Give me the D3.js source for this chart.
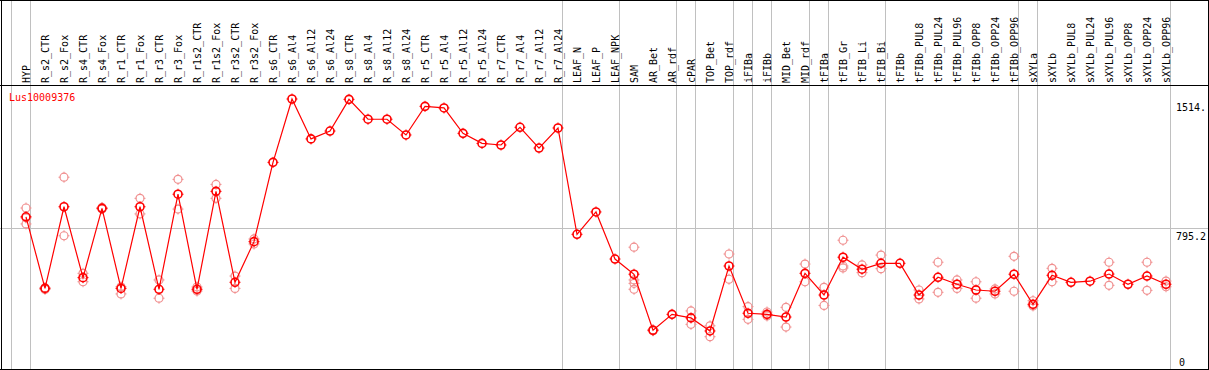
<!DOCTYPE html>
<html><head><meta charset="utf-8">
<script src="https://cdn.jsdelivr.net/npm/d3@7"></script>
<style>body{margin:0;background:#fff;}svg{display:block;}</style>
</head><body>
<svg id="c" width="1209" height="370"></svg>
<script>
const geneName = "Lus10009376";
const categories = ["HYP","R_s2_CTR","R_s2_Fox","R_s4_CTR","R_s4_Fox","R_r1_CTR","R_r1_Fox","R_r3_CTR","R_r3_Fox","R_r1s2_CTR","R_r1s2_Fox","R_r3s2_CTR","R_r3s2_Fox","R_s6_CTR","R_s6_Al4","R_s6_Al12","R_s6_Al24","R_s8_CTR","R_s8_Al4","R_s8_Al12","R_s8_Al24","R_r5_CTR","R_r5_Al4","R_r5_Al12","R_r5_Al24","R_r7_CTR","R_r7_Al4","R_r7_Al12","R_r7_Al24","LEAF_N","LEAF_P","LEAF_NPK","SAM","AR_Bet","AR_rdf","cPAR","TOP_Bet","TOP_rdf","iFIBa","iFIBb","MID_Bet","MID_rdf","tFIBa","tFIB_Gr","tFIB_Li","tFIB_Bi","tFIBb","tFIBb_PUL8","tFIBb_PUL24","tFIBb_PUL96","tFIBb_OPP8","tFIBb_OPP24","tFIBb_OPP96","sXYLa","sXYLb","sXYLb_PUL8","sXYLb_PUL24","sXYLb_PUL96","sXYLb_OPP8","sXYLb_OPP24","sXYLb_OPP96"];
const meanValues = [856,456,912,516,903,456,912,451,982,451,998,490,717,1160,1514,1291,1335,1512,1401,1401,1313,1473,1464,1322,1266,1257,1356,1240,1352,758,883,620,535,222,311,291,218,581,317,311,296,540,419,630,563,596,596,419,518,479,447,440,535,367,529,490,496,536,479,525,479];
const replicateValues = [[905,816,850],[460,450],[1077,750],[540,493],[908,900],[425,465],[959,872],[503,401],[1065,899],[464,441],[1037,959],[525,456],[732,704],[],[],[],[],[],[],[],[],[],[],[],[],[],[],[],[],[],[],[],[686,503,484,451],[225,219],[],[330,255],[247,186],[648,507],[354,283],[324,302],[350,240],[592,493],[462,361],[725,581,570],[587,544],[642,566],[],[447,397],[602,434],[503,456],[493,401],[453,425],[635,440],[387,358],[568,493],[],[],[602,473],[],[602,445],[497,465]];
const groupStarts = ["HYP","R_s2_CTR","LEAF_N","SAM","cPAR","TOP_Bet","iFIBa","iFIBb","MID_Bet","tFIBa","tFIB_Gr","tFIBb","sXYLa","sXYLb"];
const yTickLabels = ["1514.","795.2","0"];
const yTickValues = [1514,795.2,0];

const W = 1209, H = 370;
const svg = d3.select("#c");
const x = d3.scalePoint().domain(categories).range([26, 1166]);
const y = d3.scaleLinear().domain([0, 1514]).range([370, 99]);
const font = "'DejaVu Sans Mono', monospace";

// grid
const grid = svg.append("g").attr("stroke", "#c0c0c0").attr("stroke-width", 1);
const bounds = groupStarts.map(c => x(c) - 15).concat([x(categories[categories.length-1]) + 4]);
bounds.forEach(b => grid.append("line").attr("x1", Math.round(b)+0.5).attr("x2", Math.round(b)+0.5).attr("y1", 0).attr("y2", H));
grid.append("line").attr("x1", 0).attr("x2", W).attr("y1", Math.round(y(795.2))+0.5).attr("y2", Math.round(y(795.2))+0.5);

// frame
const fr = svg.append("g").attr("stroke", "#000").attr("stroke-width", 1);
fr.append("line").attr("x1",0).attr("x2",W).attr("y1",0.5).attr("y2",0.5);
fr.append("line").attr("x1",0).attr("x2",W).attr("y1",85.5).attr("y2",85.5);
fr.append("line").attr("x1",0).attr("x2",W).attr("y1",369.5).attr("y2",369.5);
fr.append("line").attr("x1",1.5).attr("x2",1.5).attr("y1",0).attr("y2",H);
fr.append("line").attr("x1",1208.5).attr("x2",1208.5).attr("y1",0).attr("y2",H);

// category labels
svg.append("g").selectAll("text").data(categories).join("text")
  .attr("transform", d => `translate(${x(d)},83) rotate(-90)`)
  .attr("dy", "0.35em")
  .attr("font-family", font).attr("font-size", 10).attr("fill", "#000")
  .text(d => d);

// y labels
svg.append("g").selectAll("text").data(yTickValues).join("text")
  .attr("x", (d,i) => i === 2 ? 1179 : 1176)
  .attr("y", (d,i) => i === 2 ? 366 : y(d) + 12)
  .attr("font-family", font).attr("font-size", 10).attr("fill", "#000")
  .text((d,i) => yTickLabels[i]);

svg.append("text").attr("x", 9).attr("y", 101)
  .attr("font-family", font).attr("font-size", 10).attr("fill", "#ff0000").text(geneName);

function marker(g, cx, cy, color, sw) {
  const m = g.append("g").attr("stroke", color).attr("fill", "none").attr("stroke-width", sw);
  m.append("circle").attr("cx", cx).attr("cy", cy).attr("r", 4);
  [[0,-1],[0,1],[-1,0],[1,0]].forEach(([dx,dy]) => {
    m.append("line").attr("x1", cx+dx*3.5).attr("y1", cy+dy*3.5).attr("x2", cx+dx*5.5).attr("y2", cy+dy*5.5).attr("stroke-width", 1);
  });
}

// replicates
const repG = svg.append("g");
replicateValues.forEach((reps, i) => reps.forEach(v => marker(repG, x(categories[i]), y(v), "#f09090", 1.2)));

// mean line
const line = d3.line().x((d,i) => x(categories[i])).y(d => y(d));
svg.append("path").datum(meanValues).attr("d", line).attr("fill", "none").attr("stroke", "#ff0000").attr("stroke-width", 1.2);

const meanG = svg.append("g");
meanValues.forEach((v, i) => marker(meanG, x(categories[i]), y(v), "#ff0000", 1.6));
</script>
</body></html>
